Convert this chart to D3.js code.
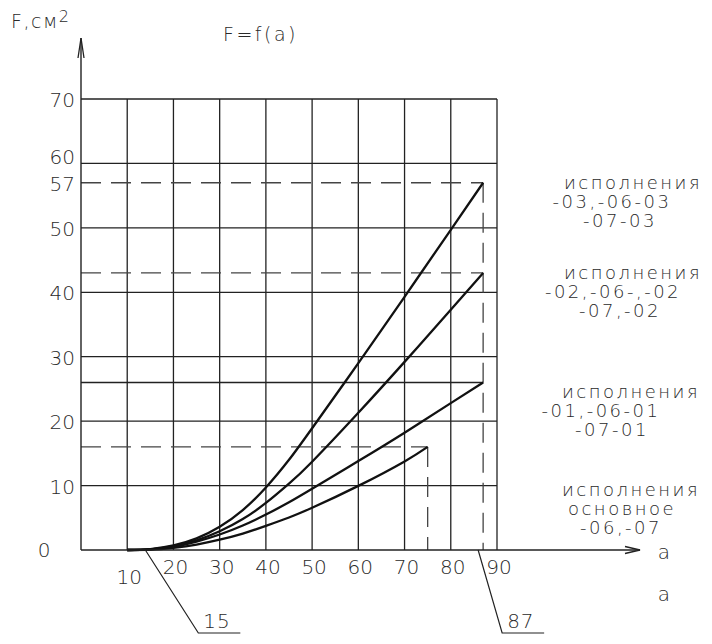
<!DOCTYPE html>
<html>
<head>
<meta charset="utf-8">
<script src="https://d3js.org/d3.v7.min.js"></script>
<style>
  body { margin: 0; background: #fff; }
  svg text { font-family: "DejaVu Sans", sans-serif; font-weight: 200; fill: #2a2a2a; }
</style>
</head>
<body>
<svg width="712" height="644"></svg>
<script>

// axis ticks
var aTicks = [10, 20, 30, 40, 50, 60, 70, 80, 90];
var fTicks = [10, 20, 30, 40, 50, 60, 70];
var fExtra = [57];

// curves F = f(a)
var aFull = [10, 15, 20, 25, 30, 35, 40, 45, 50, 60, 70, 80, 87];
var f03 = [0, 0.15, 0.7, 1.8, 3.6, 6.2, 9.7, 14.0, 18.9, 29.0, 39.3, 49.7, 57];
var f02 = [0, 0.1, 0.6, 1.5, 2.9, 4.8, 7.3, 10.3, 13.7, 21.3, 29.2, 37.3, 43];
var f01 = [0, 0.1, 0.5, 1.3, 2.4, 3.8, 5.5, 7.4, 9.5, 13.8, 18.2, 22.8, 26];
var aBase = [10, 15, 20, 25, 30, 35, 40, 45, 50, 60, 70, 75];
var fBase = [0, 0.05, 0.35, 0.85, 1.6, 2.55, 3.75, 5.05, 6.55, 9.95, 13.75, 16];

// callouts under the axis
var leaderVals = [15, 87];

var groupLines = [
    ["исполнения", "-03,-06-03", "-07-03"],
    ["исполнения", "-02,-06-,-02", "-07,-02"],
    ["исполнения", "-01,-06-01", "-07-01"],
    ["исполнения", "основное", "-06,-07"]
];

var svg = d3.select("svg");

var x = d3.scaleLinear().domain([0, 90]).range([81, 497]);
var y = d3.scaleLinear().domain([0, 70]).range([550, 99]);

var ink = "#222";

//
// grid
//
svg.append("g").selectAll("line")
    .data(aTicks)
    .enter().append("line")
    .attr("x1", d => x(d)).attr("x2", d => x(d))
    .attr("y1", y(0)).attr("y2", y(70))
    .attr("stroke", ink).attr("stroke-width", 1.3);

svg.append("g").selectAll("line")
    .data(fTicks)
    .enter().append("line")
    .attr("x1", x(0)).attr("x2", x(90))
    .attr("y1", d => y(d)).attr("y2", d => y(d))
    .attr("stroke", ink).attr("stroke-width", 1.3);

//
// reference lines to curve ends
//
var series = [
    {a: aFull, f: f03, dash: true},
    {a: aFull, f: f02, dash: true},
    {a: aFull, f: f01, dash: false},
    {a: aBase, f: fBase, dash: true}
];

series.forEach(function(s) {
    var ea = s.a[s.a.length - 1], ef = s.f[s.f.length - 1];
    svg.append("line")
        .attr("x1", x(0)).attr("x2", x(ea))
        .attr("y1", y(ef)).attr("y2", y(ef))
        .attr("stroke", s.dash ? "#444" : ink)
        .attr("stroke-width", 1.3)
        .attr("stroke-dasharray", s.dash ? "20,10" : null);
});

// vertical dashed drops
[{a: 87, f: 57}, {a: 75, f: 16}].forEach(function(p) {
    svg.append("line")
        .attr("x1", x(p.a)).attr("x2", x(p.a))
        .attr("y1", y(p.f)).attr("y2", y(0))
        .attr("stroke", "#444").attr("stroke-width", 1.3)
        .attr("stroke-dasharray", "20,10");
});

//
// curves
//
var line = d3.line()
    .x(d => x(d[0]))
    .y(d => y(Math.max(0, d[1])))
    .curve(d3.curveNatural);

series.forEach(function(s) {
    svg.append("path")
        .datum(d3.zip(s.a, s.f))
        .attr("d", line)
        .attr("fill", "none")
        .attr("stroke", "#111")
        .attr("stroke-width", 2.3);
});

//
// axes with arrows
//
svg.append("line")
    .attr("x1", x(0)).attr("x2", 640)
    .attr("y1", y(0)).attr("y2", y(0))
    .attr("stroke", ink).attr("stroke-width", 1.4);
svg.append("path")
    .attr("d", "M625," + (y(0) - 3.5) + "L640," + y(0) + "L625," + (y(0) + 3.5))
    .attr("fill", "none").attr("stroke", ink).attr("stroke-width", 1.3);

svg.append("line")
    .attr("x1", x(0)).attr("x2", x(0))
    .attr("y1", y(0)).attr("y2", 38)
    .attr("stroke", ink).attr("stroke-width", 1.4);
svg.append("path")
    .attr("d", "M" + (x(0) - 3) + ",58L" + x(0) + ",38L" + (x(0) + 3) + ",58")
    .attr("fill", "none").attr("stroke", ink).attr("stroke-width", 1.3);

//
// tick labels
//
svg.append("g").selectAll("text")
    .data(fTicks.concat(fExtra))
    .enter().append("text")
    .attr("x", 75)
    .attr("y", d => d === 60 ? y(d) + 1 : y(d) + 8)
    .attr("text-anchor", "end")
    .style("font-size", "20px")
    .text(d => d);

svg.append("text")
    .attr("x", 44).attr("y", y(0) + 7)
    .attr("text-anchor", "middle")
    .style("font-size", "20px")
    .text("0");

svg.append("g").selectAll("text")
    .data(aTicks)
    .enter().append("text")
    .attr("x", d => x(d) + 2)
    .attr("y", d => d === 10 ? 584 : 574)
    .attr("text-anchor", "middle")
    .style("font-size", "20px")
    .text(d => d);

svg.append("text").attr("x", 664).attr("y", 559)
    .attr("text-anchor", "middle").style("font-size", "20px").text("a");
svg.append("text").attr("x", 664).attr("y", 601)
    .attr("text-anchor", "middle").style("font-size", "20px").text("a");

// y axis title and chart title
var yt = svg.append("text").attr("x", 11).attr("y", 28)
    .style("font-size", "19px").style("letter-spacing", "1.5px");
yt.append("tspan").text("F,см");
yt.append("tspan").attr("dy", -6).style("font-size", "16px").text("2");

svg.append("text").attr("x", 223).attr("y", 41)
    .style("font-size", "19px").style("letter-spacing", "2.5px")
    .text("F=f(a)");

//
// leader callouts 15 and 87
//
var leaderDx = [53, 24];
leaderVals.forEach(function(v, i) {
    var x0 = x(v) - 5, x1 = x0 + leaderDx[i];
    svg.append("path")
        .attr("d", "M" + x0 + "," + y(0) + "L" + x1 + ",633L" + (x1 + 42) + ",633")
        .attr("fill", "none").attr("stroke", ink).attr("stroke-width", 1.2);
    svg.append("text")
        .attr("x", x1 + 5).attr("y", 628)
        .style("font-size", "20px").style("letter-spacing", "1px")
        .text(v);
});

//
// right-hand labels
//
var groupTop = [189, 279, 398, 496];
var groupCx = [[633, 612, 620], [633, 613, 620], [631, 601, 612], [631, 622, 621]];

groupLines.forEach(function(lines, g) {
    svg.append("g").selectAll("text")
        .data(lines)
        .enter().append("text")
        .attr("x", (d, i) => groupCx[g][i])
        .attr("y", (d, i) => groupTop[g] + i * 19)
        .attr("text-anchor", "middle")
        .style("font-size", "18px")
        .style("letter-spacing", "2.5px")
        .text(d => d);
});

</script>
</body>
</html>
